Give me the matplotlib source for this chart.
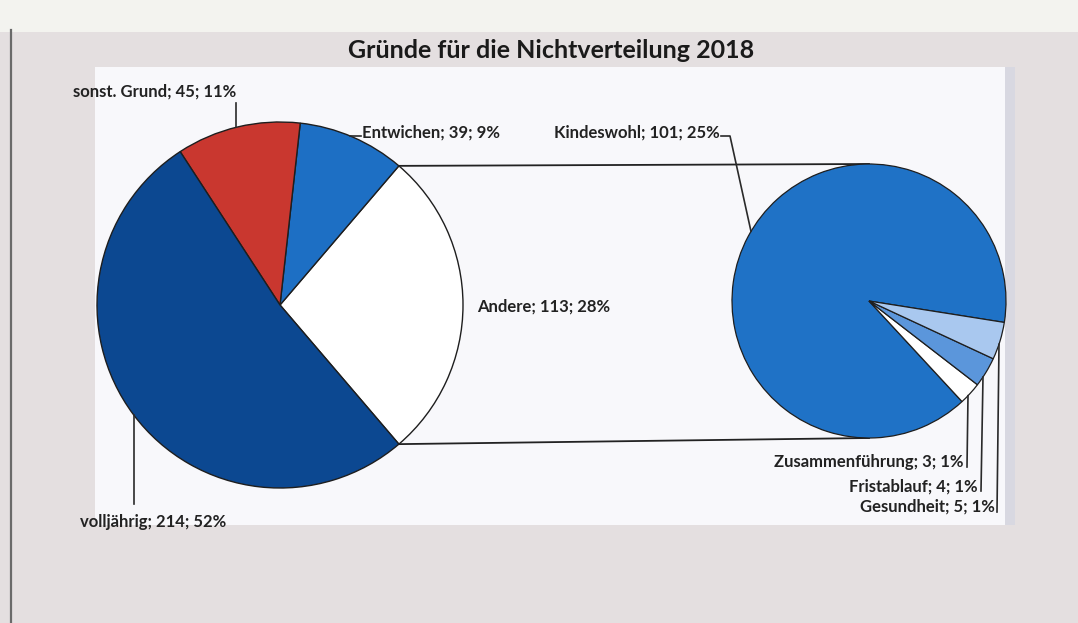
import numpy as np
import matplotlib
matplotlib.use("Agg")
import matplotlib.pyplot as plt
from matplotlib.patches import Rectangle
from matplotlib import font_manager

# ---------------- data ----------------
title = "Gründe für die Nichtverteilung 2018"
main_labels = ["Andere", "Entwichen", "sonst. Grund", "volljährig"]
main_values = [113, 39, 45, 214]
main_pcts = ["28%", "9%", "11%", "52%"]
sub_labels = ["Kindeswohl", "Zusammenführung", "Fristablauf", "Gesundheit"]
sub_values = [101, 3, 4, 5]
sub_pcts = ["25%", "1%", "1%", "1%"]

main_colors = ["#ffffff", "#1d6fc4", "#c9372f", "#0c4891"]
sub_colors = ["#1f72c6", "#ffffff", "#5b96db", "#a9c8ef"]

# ---------------- figure ----------------
W, H = 1078, 623
fig = plt.figure(figsize=(W / 100, H / 100), dpi=100, facecolor="#e4dfe0")
ax = fig.add_axes([0, 0, 1, 1])
ax.set_facecolor("#e4dfe0")

avail = {f.name for f in font_manager.fontManager.ttflist}
fam = next(f for f in ["Lato", "Open Sans", "DejaVu Sans"] if f in avail)
plt.rcParams["font.family"] = [fam, "DejaVu Sans"]


def Y(y):
    return H - y


# background frame
ax.add_patch(Rectangle((0, Y(32)), W, 32, fc="#f3f3ef", ec="none", zorder=0))
ax.plot([11, 11], [Y(30), 0], color="#6a6a6a", lw=1.6, zorder=1)
ax.add_patch(Rectangle((95, Y(525)), 910, 458, fc="#f8f8fb", ec="none", zorder=0))
ax.add_patch(Rectangle((1005, Y(525)), 10, 458, fc="#d8d8e1", ec="none", zorder=0))

# main pie
mcx, mcy, mr = 280, Y(305), 183
start_main = -0.5 * 360 * main_values[0] / sum(main_values)
wedges_m, _ = ax.pie(main_values, colors=main_colors, startangle=start_main,
                     counterclock=True, center=(mcx, mcy), radius=mr,
                     wedgeprops=dict(edgecolor="#1e1e1e", linewidth=1.0))

# sub pie
scx, scy, sr = 869, Y(301), 137
wedges_s, _ = ax.pie(sub_values, colors=sub_colors, startangle=-9.0,
                     counterclock=True, center=(scx, scy), radius=sr,
                     wedgeprops=dict(edgecolor="#1e1e1e", linewidth=0.9))

# connector lines between pies
a1 = np.deg2rad(wedges_m[0].theta1)
a2 = np.deg2rad(wedges_m[0].theta2)
ax.plot([mcx + mr * np.cos(a2), scx], [mcy + mr * np.sin(a2), scy + sr],
        color="#222222", lw=1.3, zorder=0.5)
ax.plot([mcx + mr * np.cos(a1), scx], [mcy + mr * np.sin(a1), scy - sr],
        color="#222222", lw=1.3, zorder=0.5)

ax.set_xlim(0, W)
ax.set_ylim(0, H)
ax.set_aspect("equal")
ax.axis("off")


def arc_y(cx, cy, r, x, upper=True):
    d = np.sqrt(max(r * r - (x - cx) ** 2, 0))
    return cy + d if upper else cy - d


lc = "#2a2a2a"
tkw = dict(fontsize=12, fontweight="bold", color="#222222", va="center")

# title
ax.text(551, Y(50), title, ha="center", va="center", fontsize=18,
        fontweight="bold", color="#1a1a1a")

# labels main pie
def lab(names, vals, pcts, i):
    return f"{names[i]}; {vals[i]}; {pcts[i]}"

ax.text(73, Y(92), lab(main_labels, main_values, main_pcts, 2), ha="left", **tkw)
ax.plot([236, 236], [Y(103), arc_y(mcx, mcy, mr, 236)], color=lc, lw=1.2)

ax.text(362, Y(133), lab(main_labels, main_values, main_pcts, 1), ha="left", **tkw)
ax.plot([361, 353, 350], [Y(136), Y(136), arc_y(mcx, mcy, mr, 350)], color=lc, lw=1.2)

ax.text(477, Y(307), lab(main_labels, main_values, main_pcts, 0), ha="left", **tkw)

ax.text(80, Y(522), lab(main_labels, main_values, main_pcts, 3), ha="left", **tkw)
ax.plot([134, 134], [Y(504), arc_y(mcx, mcy, mr, 134, upper=False)], color=lc, lw=1.2)

# labels sub pie
ax.text(720, Y(133), lab(sub_labels, sub_values, sub_pcts, 0), ha="right", **tkw)
ax.plot([721, 730, 751], [Y(136), Y(136), arc_y(scx, scy, sr, 751)], color=lc, lw=1.2)

ax.text(964, Y(462), lab(sub_labels, sub_values, sub_pcts, 1), ha="right", **tkw)
ax.plot([967, 968], [Y(467), arc_y(scx, scy, sr, 968, upper=False)], color=lc, lw=1.2)

ax.text(978, Y(487), lab(sub_labels, sub_values, sub_pcts, 2), ha="right", **tkw)
ax.plot([981, 983], [Y(491), arc_y(scx, scy, sr, 983, upper=False)], color=lc, lw=1.2)

ax.text(995, Y(507), lab(sub_labels, sub_values, sub_pcts, 3), ha="right", **tkw)
ax.plot([997, 999], [Y(512), arc_y(scx, scy, sr, 999, upper=False)], color=lc, lw=1.2)

fig.savefig("out.png", dpi=100, facecolor=fig.get_facecolor())
